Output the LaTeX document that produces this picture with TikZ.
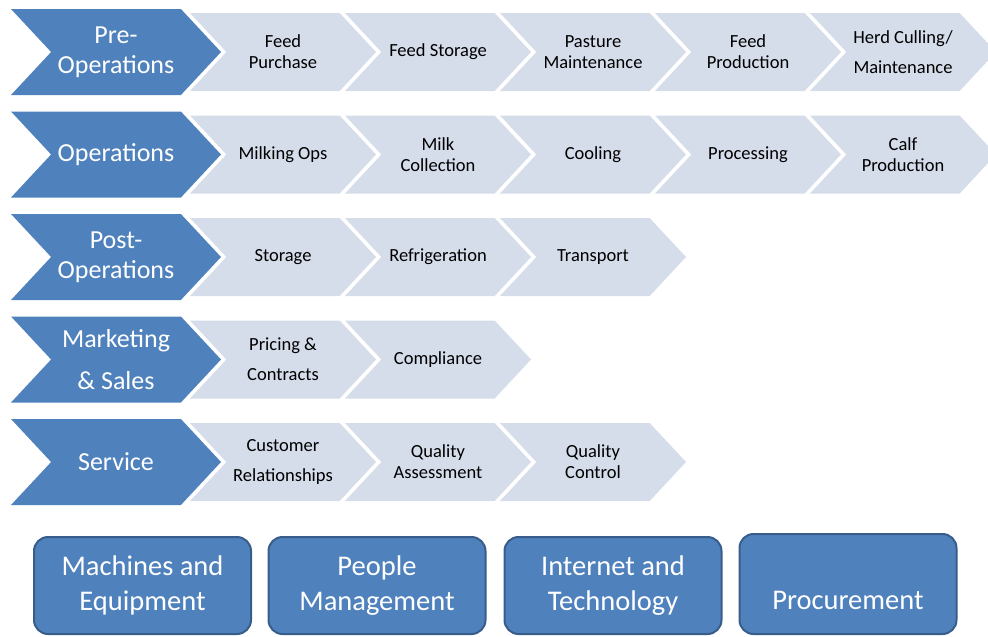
\documentclass[tikz,border=0pt]{standalone}
\usepackage{fontspec}
\setmainfont{Carlito}
\usetikzlibrary{shapes.symbols}

\definecolor{stageblue}{HTML}{4F81BD}
\definecolor{stepfill}{HTML}{D5DCEA}
\definecolor{boxline}{HTML}{385D8A}

\begin{document}
\begin{tikzpicture}[
    x=1pt, y=-1pt,
    stage/.style   ={signal, signal to=east, signal from=west, signal pointer angle=94,
                     fill=stageblue, text=white, inner sep=0pt, align=center,
                     minimum width=210pt, minimum height=86pt,
                     font=\fontsize{26}{30}\selectfont},
    stepnode/.style={signal, signal to=east, signal from=west, signal pointer angle=94,
                     fill=stepfill, inner sep=0pt, align=center,
                     minimum width=186pt, minimum height=78pt,
                     font=\fontsize{18.5}{21}\selectfont},
    res/.style     ={draw=boxline, line width=2pt, fill=stageblue, text=white,
                     rounded corners=14pt, align=center,
                     minimum width=217pt, minimum height=97pt,
                     font=\fontsize{28.5}{35}\selectfont},
  ]
  \useasboundingbox (0,0) rectangle (988,637);

  % --- pre-operations ---
  \node[stage]    (pre)  at (116,52) {Pre-\\Operations};
  \node[stepnode] (pre1) at (283,52) {Feed\\Purchase};
  \node[stepnode] (pre2) at (438,52) {Feed Storage};
  \node[stepnode] (pre3) at (593,52) {Pasture\\Maintenance};
  \node[stepnode] (pre4) at (748,52) {Feed\\Production};
  \node[stepnode] (pre5) at (903,52) {Herd Culling/\\[9pt]Maintenance};

  % --- operations ---
  \node[stage]    (ops)  at (116,154.5) {Operations};
  \node[stepnode] (ops1) at (283,154.5) {Milking Ops};
  \node[stepnode] (ops2) at (438,154.5) {Milk\\Collection};
  \node[stepnode] (ops3) at (593,154.5) {Cooling};
  \node[stepnode] (ops4) at (748,154.5) {Processing};
  \node[stepnode] (ops5) at (903,154.5) {Calf\\Production};

  % --- post-operations ---
  \node[stage]    (post)  at (116,257) {Post-\\Operations};
  \node[stepnode] (post1) at (283,257) {Storage};
  \node[stepnode] (post2) at (438,257) {Refrigeration};
  \node[stepnode] (post3) at (593,257) {Transport};

  % --- marketing & sales ---
  \node[stage]    (mkt)  at (116,359.5) {Marketing\\[12pt]\& Sales};
  \node[stepnode] (mkt1) at (283,359.5) {Pricing \&\\[9pt]Contracts};
  \node[stepnode] (mkt2) at (438,359.5) {Compliance};

  % --- service ---
  \node[stage]    (svc)  at (116,462) {Service};
  \node[stepnode] (svc1) at (283,462) {Customer\\[9pt]Relationships};
  \node[stepnode] (svc2) at (438,462) {Quality\\Assessment};
  \node[stepnode] (svc3) at (593,462) {Quality\\Control};

  % --- resources ---
  \node[res] (mach) at (142.5,585.5) {Machines and\\Equipment};
  \node[res] (ppl)  at (377,585.5)   {People\\Management};
  \node[res] (net)  at (613,585.5)   {Internet and\\Technology};
  \node[res, minimum height=100pt, text height=56pt, text depth=6pt]
             (proc) at (848,584)     {Procurement};
\end{tikzpicture}
\end{document}
